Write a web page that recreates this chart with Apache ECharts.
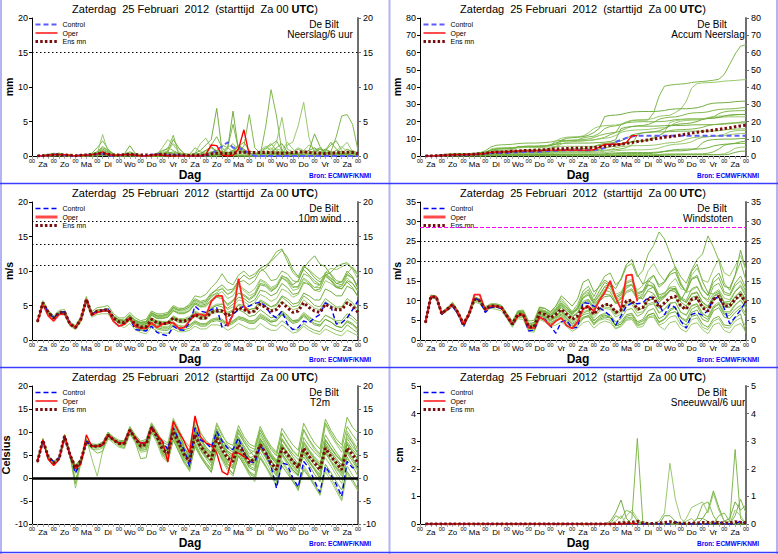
<!DOCTYPE html>
<html>
<head>
<meta charset="utf-8">
<script src="https://cdn.jsdelivr.net/npm/echarts@6/dist/echarts.min.js"></script>
<style>
  html, body { margin: 0; padding: 0; background: #fff; }
  #chart { width: 778px; height: 554px; }
</style>
</head>
<body>
<div id="chart"></div>
<script>
// Time axis: 6-hourly steps, first value at +6h, 15 days
const STEP_HOURS = 6;
const DAYS = ['Za', 'Zo', 'Ma', 'Di', 'Wo', 'Do', 'Vr', 'Za', 'Zo', 'Ma', 'Di', 'Wo', 'Do', 'Vr', 'Za'];
const TITLE_TEXT = 'Zaterdag\u00a0 25 Februari\u00a0 2012\u00a0 (starttijd\u00a0 Za 00 ';
const TITLE_BOLD = 'UTC';
const STATION = 'De Bilt';
const SOURCE = 'Bron: ECMWF/KNMI';
const X_TITLE = 'Dag';

// ---------- T2m (Celsius) ----------
const T2M_MEAN = [
  3.5, 8.2, 4.6, 3.3, 4.3, 9.1, 5.0, 2.2, 3.8, 8.0,
  6.9, 6.9, 7.2, 9.3, 8.3, 7.5, 7.5, 10.4, 8.6, 6.9,
  7.3, 11.0, 9.0, 6.2, 5.4, 10.1, 7.6, 5.1, 3.6, 9.4,
  6.9, 5.4, 4.0, 8.7, 6.2, 4.3, 3.6, 7.2, 5.4, 3.3,
  4.3, 7.2, 5.4, 3.3, 1.8, 6.5, 5.1, 3.6, 2.2, 6.5,
  4.7, 3.3, 1.8, 6.5, 4.7, 3.3, 1.8, 6.5, 5.1, 3.3];
const T2M_CTRL = [
  3.6, 8.0, 4.5, 3.6, 4.3, 9.0, 5.0, 1.1, 3.5, 8.0,
  6.9, 6.9, 7.2, 9.3, 8.3, 7.6, 7.6, 10.5, 8.7, 7.6,
  7.6, 11.2, 9.2, 8.0, 6.2, 10.9, 8.3, 6.2, 2.5, 10.9,
  8.3, 7.6, 6.5, 10.1, 8.0, 6.5, 6.2, 8.7, 5.4, 3.6,
  3.3, 6.9, 5.8, 2.5, -2.2, 3.3, 2.9, 0.0, -2.0, 3.6,
  2.2, -0.7, -3.1, 2.5, 0.7, -1.4, -4.0, 3.6, 2.2, 2.5];
const T2M_OPER = [
  3.5, 8.3, 4.0, 2.7, 4.0, 9.2, 5.0, 2.0, 3.0, 9.4,
  6.9, 6.9, 7.2, 9.4, 8.3, 7.6, 7.6, 10.5, 8.7, 7.6,
  7.6, 11.0, 9.4, 8.0, 3.5, 12.3, 10.1, 8.0, 5.4, 13.5,
  9.0, 7.6, 7.2, 5.4, 1.4, 0.7, 5.4, 5.4, 4.7, 4.0];
const T2M_MEMBERS = [
  [3.8, 8.6, 4.9, 3.5, 4.6, 9.5, 5.4, 2.8, 4.2, 8.4,
   7.4, 7.3, 7.8, 10.0, 8.9, 8.2, 8.1, 11.2, 9.4, 8.0,
   8.4, 12.0, 10.1, 7.8, 7.2, 11.8, 9.4, 7.3, 6.0, 12.4,
   9.8, 8.2, 7.0, 11.6, 9.2, 7.6, 7.1, 11.4, 9.0, 7.4,
   6.8, 11.2, 8.8, 6.9, 5.6, 10.8, 8.9, 7.2, 6.0, 11.9,
   9.6, 7.6, 6.3, 12.8, 10.4, 8.5, 7.2, 13.2, 11.0, 9.8],
  [3.2, 7.9, 4.2, 2.9, 3.9, 8.7, 4.5, 1.0, 3.0, 7.4,
   6.3, 6.1, 6.5, 8.6, 7.6, 6.7, 6.4, 9.5, 7.8, 5.6,
   5.8, 10.0, 7.6, 4.5, 3.4, 8.6, 5.7, 3.2, 1.6, 7.6,
   4.9, 3.0, 1.4, 6.6, 3.8, 1.6, 0.4, 5.0, 2.8, 0.6,
   -0.8, 4.2, 2.4, 0.2, -1.6, 3.4, 1.6, -0.6, -2.8, 2.8,
   0.8, -1.2, -3.4, 2.0, 0.2, -2.2, -4.6, 2.6, 0.6, -1.0],
  [3.6, 8.1, 4.7, 3.4, 4.4, 9.3, 5.2, 2.4, 3.9, 8.2,
   7.0, 7.1, 7.4, 9.5, 8.4, 7.4, 7.2, 10.1, 8.2, 6.4,
   6.6, 10.5, 8.7, 6.9, 6.3, 11.2, 8.6, 6.4, 4.8, 10.4,
   7.6, 5.6, 4.4, 8.0, 5.3, 3.1, 2.0, 6.4, 4.4, 2.6,
   3.4, 8.6, 6.8, 4.6, 3.2, 8.2, 6.5, 4.6, 3.0, 5.2,
   3.4, 1.8, 0.2, 5.4, 3.6, 2.4, 1.2, 7.8, 6.2, 4.8],
  [3.4, 8.4, 4.4, 3.1, 4.1, 8.9, 4.7, 1.7, 3.5, 7.6,
   6.6, 6.5, 6.8, 9.0, 8.0, 7.8, 7.9, 10.8, 9.0, 7.4,
   7.9, 11.6, 9.5, 5.6, 4.2, 9.2, 6.8, 4.2, 2.6, 8.6,
   6.0, 4.3, 2.6, 9.6, 7.4, 5.8, 5.0, 9.0, 7.0, 5.2,
   6.0, 9.8, 7.6, 5.4, 3.8, 7.4, 5.6, 3.8, 2.2, 8.8,
   7.0, 5.6, 4.4, 9.4, 7.4, 5.6, 4.0, 6.0, 4.2, 2.0],
  [3.7, 8.0, 4.8, 3.6, 4.5, 9.0, 4.8, -2.2, 3.2, 8.6,
   4.2, 0.4, 5.8, 8.4, 8.6, 7.0, 7.0, 10.2, 8.8, 7.0,
   6.8, 10.8, 9.2, 6.6, 5.8, 9.6, 7.2, 5.4, 4.0, 10.0,
   7.4, 4.8, 3.2, 7.0, 4.6, 2.8, 2.2, 7.8, 6.2, 4.0,
   2.4, 5.6, 3.6, 1.4, -0.6, 4.8, 3.0, 1.4, 0.4, 7.6,
   5.8, 4.0, 2.6, 4.4, 2.6, 0.6, -1.2, 4.2, 2.8, 1.6],
  [3.5, 8.3, 4.5, 3.2, 4.2, 9.2, 5.1, -1.2, 3.6, 7.8,
   6.8, 7.0, 7.0, 9.2, 8.2, 7.6, 7.7, 10.6, 8.4, 6.8,
   7.0, 11.4, 9.4, 7.0, 6.6, 12.6, 9.8, 6.8, 4.4, 11.0,
   8.4, 6.2, 5.4, 10.6, 8.2, 6.4, 5.6, 9.8, 7.8, 6.0,
   4.6, 6.4, 4.6, 2.8, 1.4, 8.6, 6.8, 5.2, 4.0, 5.6,
   3.6, 2.0, 0.8, 8.2, 6.4, 4.8, 3.6, 9.6, 7.6, 5.2],
  [3.3, 8.1, 4.3, 3.0, 4.0, 8.8, 4.9, 2.0, 3.7, 8.3,
   6.4, 5.4, 5.8, 9.8, 8.6, 7.0, 6.6, 9.8, 7.8, 4.2,
   4.4, 9.8, 8.2, 5.4, 4.4, 9.0, 6.4, 3.8, 1.8, 7.2,
   5.0, 3.4, 2.0, 8.0, 5.8, 3.6, 2.4, 5.8, 3.6, 1.4,
   0.6, 6.6, 4.6, 2.2, 0.4, 5.2, 3.4, 1.8, 0.6, 5.8,
   3.8, 1.8, -0.2, 6.0, 3.6, 1.4, -0.4, 4.6, 2.6, 0.4],
  [3.6, 8.2, 4.6, 3.3, 4.3, 9.1, 5.0, 2.6, 4.0, 8.1,
   7.1, 7.2, 7.5, 9.6, 8.4, 7.9, 7.8, 10.4, 8.8, 7.8,
   8.0, 11.8, 9.6, 8.4, 7.6, 13.0, 10.6, 8.2, 6.8, 12.8,
   10.0, 8.0, 6.6, 12.0, 9.6, 7.2, 6.0, 10.4, 8.0, 6.2,
   5.6, 10.6, 8.4, 6.6, 5.2, 9.8, 7.6, 5.8, 4.6, 10.4,
   8.0, 6.2, 4.8, 11.6, 9.2, 7.4, 5.6, 9.0, 7.6, 6.6],
  [3.4, 8.0, 4.7, 3.4, 4.4, 9.0, 4.6, 1.4, 3.4, 7.9,
   6.7, 6.9, 7.1, 9.1, 8.1, 7.3, 7.2, 10.0, 8.3, 6.0,
   6.2, 10.6, 8.4, 5.2, 3.6, 8.2, 5.8, 3.4, 2.2, 6.8,
   4.6, 2.8, 1.2, 6.2, 4.2, 2.2, 0.8, 4.8, 3.0, 1.2,
   0.2, 4.4, 2.6, 0.8, -0.8, 2.6, 1.0, -0.8, -2.4, 1.8,
   0.2, -1.8, -3.6, 3.0, 1.2, -0.8, -2.6, 1.4, -0.4, -2.4],
  [3.5, 8.2, 4.6, 3.3, 4.3, 9.2, 5.1, 2.3, 3.8, 8.0,
   6.9, 6.9, 7.2, 9.3, 8.3, 7.6, 7.5, 10.4, 8.5, 7.0,
   7.2, 11.0, 8.8, 6.0, 5.2, 10.6, 8.0, 5.8, 4.2, 9.8,
   7.2, 5.8, 4.6, 9.2, 6.8, 4.8, 4.0, 7.8, 5.8, 4.0,
   3.6, 8.0, 6.2, 4.4, 3.0, 7.2, 5.6, 4.0, 2.8, 7.8,
   6.0, 4.4, 3.0, 6.6, 4.8, 3.2, 1.8, 7.4, 5.8, 4.0],
  [3.6, 8.3, 4.5, 3.2, 4.2, 9.1, 5.0, 2.1, 3.9, 8.1,
   7.0, 6.8, 7.3, 9.4, 8.2, 7.4, 7.6, 10.5, 8.7, 7.2,
   7.5, 11.2, 9.1, 6.4, 5.0, 10.8, 8.2, 5.2, 3.0, 11.6,
   8.8, 6.6, 5.0, 7.6, 5.0, 3.0, 2.6, 8.4, 6.4, 4.4,
   4.8, 9.2, 7.2, 5.0, 3.6, 6.0, 4.2, 2.4, 0.8, 8.0,
   6.2, 4.6, 3.4, 6.8, 4.6, 2.8, 1.2, 10.2, 8.2, 6.0],
  [3.5, 8.1, 4.6, 3.3, 4.3, 9.0, 4.9, 2.2, 3.8, 7.9,
   6.8, 6.9, 7.1, 9.2, 8.2, 7.4, 7.4, 10.2, 8.5, 6.6,
   7.0, 10.8, 8.6, 5.8, 4.8, 9.4, 7.0, 4.6, 3.0, 8.4,
   6.2, 4.6, 3.4, 9.4, 7.2, 5.4, 4.6, 6.2, 4.2, 2.2,
   1.6, 7.8, 5.8, 3.6, 2.0, 7.0, 5.2, 3.4, 2.0, 4.6,
   2.8, 0.8, -0.8, 7.2, 5.4, 3.8, 2.4, 5.4, 3.6, 1.8],
  [3.7, 8.4, 4.8, 3.5, 4.5, 9.4, 5.3, 2.5, 4.1, 8.3,
   7.2, 7.1, 7.6, 9.8, 8.7, 7.9, 7.9, 10.9, 9.1, 7.6,
   7.9, 11.6, 9.8, 7.4, 6.6, 11.4, 8.8, 6.6, 5.2, 11.2,
   8.6, 6.8, 5.6, 10.8, 8.4, 6.8, 6.2, 10.6, 8.4, 6.8,
   6.2, 10.4, 8.2, 6.2, 4.8, 9.6, 7.8, 6.0, 4.8, 10.6,
   8.4, 6.6, 5.2, 12.0, 9.8, 7.8, 6.4, 11.2, 9.4, 7.8],
  [3.4, 8.0, 4.4, 3.1, 4.1, 8.9, 4.7, 1.6, 3.4, 7.7,
   6.6, 6.5, 6.8, 8.9, 7.9, 7.1, 7.0, 9.9, 8.1, 6.0,
   6.3, 10.4, 8.2, 5.0, 3.8, 8.8, 6.2, 3.8, 1.4, 7.8,
   5.2, 3.2, 1.8, 7.0, 4.6, 2.4, 1.0, 5.6, 3.2, 0.8,
   0.2, 4.8, 2.8, 0.4, -1.2, 3.8, 2.0, -0.2, -2.0, 2.2,
   0.4, -1.6, -3.8, 1.4, -0.6, -2.8, -5.0, 1.0, -1.0, -2.8],
  [3.6, 8.2, 4.6, 3.3, 4.3, 9.1, 5.0, 2.3, 3.9, 8.1,
   7.0, 6.8, 7.1, 9.4, 8.4, 7.7, 7.6, 10.6, 8.7, 7.2,
   7.4, 11.2, 9.2, 6.6, 5.8, 10.4, 7.8, 5.6, 4.0, 9.8,
   7.2, 5.6, 4.4, 9.8, 7.6, 5.8, 5.0, 8.6, 6.6, 4.6,
   4.0, 8.4, 6.6, 4.8, 3.6, 5.4, 3.6, 1.8, 0.6, 6.6,
   5.0, 3.6, 2.4, 8.4, 6.6, 5.0, 3.8, 5.8, 4.2, 2.6],
  [3.5, 8.1, 4.7, 3.4, 4.4, 9.2, 4.8, -0.4, 3.4, 8.4,
   6.9, 7.0, 7.3, 9.2, 8.2, 7.4, 7.3, 10.3, 8.6, 6.8,
   7.2, 10.9, 8.9, 6.0, 4.8, 9.8, 7.4, 5.0, 3.4, 9.0,
   6.6, 5.0, 3.6, 8.4, 5.8, 3.8, 2.8, 6.6, 4.6, 2.6,
   2.0, 6.4, 4.4, 2.4, 0.8, 6.0, 4.4, 2.8, 1.2, 7.2,
   5.6, 4.0, 2.6, 5.6, 3.8, 2.2, 0.8, 8.6, 6.8, 5.4],
  [3.5, 8.3, 4.6, 3.3, 4.3, 9.0, 5.0, 2.2, 3.8, 7.9,
   6.9, 6.9, 7.2, 9.3, 8.3, 7.5, 7.4, 10.3, 8.5, 6.6,
   7.0, 10.8, 8.8, 5.8, 5.0, 10.0, 7.4, 4.8, 3.2, 9.0,
   6.4, 4.8, 3.4, 8.2, 5.6, 3.6, 2.8, 7.0, 5.0, 2.8,
   3.0, 7.0, 5.0, 2.8, 1.2, 5.8, 4.4, 2.8, 1.4, 5.8,
   3.8, 2.2, 0.6, 5.8, 3.8, 2.0, 0.4, 6.2, 4.4, 2.2],
  [3.6, 8.2, 4.5, 3.2, 4.2, 9.1, 5.0, 2.1, 3.8, 8.1,
   7.0, 6.9, 7.2, 9.3, 8.3, 7.6, 7.6, 10.5, 8.7, 7.1,
   7.5, 11.3, 9.3, 6.8, 6.0, 10.8, 8.2, 5.8, 4.4, 10.2,
   7.6, 6.0, 4.8, 9.4, 7.0, 5.0, 4.2, 7.6, 5.6, 3.8,
   4.0, 7.6, 5.8, 3.8, 2.4, 7.0, 5.6, 4.0, 2.6, 6.0,
   4.4, 2.8, 1.4, 7.6, 5.8, 4.2, 2.8, 7.2, 5.6, 4.0]
];
const T2M_REF = [0];

// ---------- Windstoten (m/s) ----------
const GUST_MEAN = [
  4.4, 11.0, 10.9, 6.7, 7.8, 9.0, 6.9, 4.0, 6.5, 10.3,
  9.9, 7.8, 8.6, 8.6, 8.2, 6.1, 4.0, 6.5, 6.5, 3.3,
  3.3, 6.9, 6.5, 5.6, 6.5, 7.8, 6.5, 5.2, 6.1, 8.2,
  8.5, 6.5, 8.2, 9.0, 9.0, 7.0, 7.6, 9.9, 10.1, 7.8,
  8.2, 10.3, 10.7, 8.2, 9.4, 10.7, 11.1, 8.6, 7.8, 10.3,
  10.7, 8.2, 7.3, 10.3, 11.1, 8.6, 8.6, 10.3, 11.5, 9.4];
const GUST_CTRL = [
  4.4, 11.0, 10.9, 6.5, 7.6, 8.6, 6.5, 3.3, 6.3, 10.7,
  10.0, 7.0, 8.2, 8.4, 8.0, 5.8, 3.8, 6.1, 6.3, 2.3,
  2.5, 5.8, 5.2, 3.6, 1.7, 4.6, 5.0, 3.0, 3.2, 9.5,
  9.3, 8.6, 8.2, 7.3, 6.1, 3.8, 6.1, 8.6, 9.4, 9.2,
  9.4, 10.9, 10.7, 9.0, 6.4, 9.0, 8.2, 4.8, 3.0, 6.5,
  6.9, 6.3, 7.5, 10.5, 10.9, 8.0, 4.1, 5.8, 7.6, 9.9];
const GUST_OPER = [
  4.4, 11.0, 10.9, 6.7, 7.8, 9.0, 6.9, 4.0, 6.5, 11.5,
  11.5, 7.6, 8.6, 8.6, 8.2, 6.1, 4.0, 6.1, 6.5, 3.1,
  3.1, 5.8, 5.0, 3.5, 4.8, 5.6, 3.7, 2.9, 4.6, 7.8,
  8.6, 7.3, 10.0, 12.0, 15.0, 10.8, 7.8, 16.4, 16.6, 9.8];
const GUST_MEMBERS = [
  [4.6, 11.4, 11.2, 7.0, 8.2, 9.6, 7.4, 4.6, 7.0, 11.0,
   10.4, 8.4, 9.2, 9.2, 8.8, 6.8, 4.8, 7.4, 7.6, 4.8,
   5.0, 8.4, 8.0, 7.0, 8.0, 10.0, 8.6, 7.2, 9.0, 12.4,
   13.6, 11.0, 13.8, 16.2, 17.0, 14.0, 15.2, 18.6, 19.4, 16.0,
   17.6, 21.8, 24.0, 27.4, 25.6, 22.0, 18.4, 14.2, 12.0, 15.6,
   16.4, 13.0, 11.2, 14.6, 15.8, 12.2, 11.6, 14.4, 16.2, 13.0],
  [4.2, 10.6, 10.5, 6.4, 7.4, 8.4, 6.4, 3.6, 6.0, 9.6,
   9.2, 7.2, 8.0, 7.8, 7.4, 5.4, 3.2, 5.4, 5.2, 2.2,
   2.0, 5.2, 4.6, 3.4, 3.8, 4.6, 3.4, 2.2, 3.0, 4.4,
   4.8, 3.0, 4.2, 4.8, 4.4, 2.8, 3.4, 5.0, 5.2, 3.2,
   3.4, 5.6, 5.8, 3.6, 2.6, 4.4, 4.8, 2.8, 2.0, 4.0,
   4.4, 2.6, 1.6, 3.8, 4.4, 2.4, 1.8, 3.6, 4.2, 2.0],
  [4.4, 11.2, 11.0, 6.9, 8.0, 9.3, 7.0, 4.2, 6.8, 10.6,
   10.2, 8.0, 8.8, 8.9, 8.4, 6.3, 4.2, 6.8, 6.9, 3.6,
   3.8, 7.4, 7.0, 6.0, 7.2, 8.8, 7.6, 6.4, 8.2, 11.6,
   12.8, 10.0, 12.4, 14.6, 13.8, 10.6, 11.4, 13.8, 14.0, 11.0,
   10.4, 12.8, 13.4, 10.2, 11.0, 12.6, 12.8, 10.0, 12.6, 17.4,
   19.2, 14.8, 12.0, 11.6, 12.4, 9.6, 9.8, 12.2, 13.6, 11.0],
  [4.3, 10.8, 10.7, 6.5, 7.6, 8.8, 6.7, 3.8, 6.3, 10.0,
   9.6, 7.5, 8.3, 8.4, 8.0, 5.8, 3.8, 6.2, 6.2, 3.0,
   2.8, 6.2, 5.8, 4.8, 5.6, 6.6, 5.4, 4.0, 4.6, 6.4,
   6.8, 4.8, 6.2, 6.8, 6.4, 4.6, 5.4, 7.6, 8.0, 6.0,
   6.8, 8.8, 9.2, 6.8, 7.8, 9.2, 9.6, 7.0, 6.4, 8.8,
   9.2, 6.8, 5.8, 8.4, 9.0, 6.4, 6.2, 7.8, 8.8, 6.6],
  [4.5, 11.0, 10.8, 6.8, 7.9, 9.2, 7.1, 4.4, 6.6, 10.4,
   10.0, 7.9, 8.7, 8.8, 8.3, 6.2, 4.4, 7.0, 7.2, 4.0,
   4.4, 8.0, 7.4, 6.8, 8.6, 10.6, 9.0, 7.0, 7.6, 9.8,
   10.4, 8.4, 10.6, 12.8, 13.6, 11.6, 12.2, 14.8, 15.4, 12.6,
   13.8, 17.6, 19.4, 16.8, 15.0, 17.2, 18.0, 14.6, 12.0, 12.6,
   13.4, 11.0, 9.6, 11.8, 12.8, 10.6, 10.2, 12.4, 14.0, 11.6],
  [4.4, 10.9, 10.9, 6.6, 7.7, 8.9, 6.8, 3.9, 6.4, 10.2,
   9.8, 7.6, 8.4, 8.4, 8.0, 5.9, 3.6, 5.8, 5.8, 2.6,
   2.4, 5.6, 5.0, 4.0, 4.8, 5.8, 4.4, 3.0, 3.6, 5.4,
   6.2, 4.2, 5.6, 6.2, 5.8, 3.8, 4.6, 6.4, 6.8, 4.6,
   5.2, 7.4, 8.0, 5.4, 6.2, 7.8, 8.4, 5.6, 4.6, 7.0,
   7.6, 5.2, 4.6, 7.4, 8.2, 5.8, 5.4, 7.0, 8.2, 5.8],
  [4.6, 11.2, 11.1, 7.1, 8.1, 9.4, 7.2, 4.4, 6.9, 10.8,
   10.4, 8.2, 9.0, 9.0, 8.6, 6.5, 4.4, 7.0, 7.0, 3.8,
   4.0, 7.6, 7.4, 6.4, 7.4, 9.0, 7.8, 6.6, 7.8, 10.6,
   11.4, 9.0, 10.4, 11.6, 11.4, 9.2, 9.6, 12.4, 13.0, 10.4,
   11.4, 14.6, 16.4, 14.0, 14.8, 17.0, 18.6, 16.0, 14.4, 17.8,
   20.4, 21.8, 26.4, 23.6, 20.2, 14.4, 12.6, 16.4, 19.8, 15.0],
  [4.3, 10.9, 10.8, 6.6, 7.7, 8.8, 6.8, 3.9, 6.4, 10.1,
   9.7, 7.6, 8.4, 8.3, 8.0, 5.9, 3.9, 6.4, 6.4, 3.2,
   3.2, 6.6, 6.2, 5.2, 6.0, 7.2, 6.0, 4.6, 5.4, 7.2,
   7.6, 5.6, 7.2, 8.0, 7.8, 5.8, 6.6, 8.8, 9.0, 6.8,
   7.2, 9.2, 9.6, 7.0, 8.0, 9.4, 9.6, 7.0, 6.2, 8.6,
   9.0, 6.6, 5.8, 8.6, 9.6, 7.2, 7.2, 9.0, 10.0, 8.0],
  [4.4, 11.0, 10.9, 6.7, 7.8, 9.0, 6.9, 4.0, 6.5, 10.3,
   9.9, 7.8, 8.6, 8.6, 8.2, 6.1, 4.1, 6.6, 6.6, 3.4,
   3.4, 7.0, 6.6, 5.8, 6.8, 8.2, 7.0, 5.8, 6.8, 9.2,
   9.8, 7.8, 9.8, 11.0, 11.2, 9.4, 10.4, 13.2, 14.0, 11.6,
   12.2, 15.4, 16.4, 13.4, 14.6, 16.6, 17.2, 13.8, 12.4, 15.4,
   16.0, 12.6, 11.4, 15.6, 17.0, 13.6, 13.2, 16.4, 22.8, 17.6],
  [4.5, 11.1, 11.0, 6.8, 7.9, 9.1, 7.0, 4.1, 6.6, 10.4,
   10.0, 7.9, 8.7, 8.7, 8.3, 6.2, 4.0, 6.4, 6.4, 3.2,
   3.2, 6.6, 6.0, 5.0, 5.8, 7.0, 5.6, 4.2, 5.0, 6.8,
   7.4, 5.0, 6.0, 6.4, 5.8, 3.6, 4.0, 5.6, 5.8, 3.8,
   4.2, 6.2, 6.8, 4.6, 5.4, 7.4, 8.2, 5.8, 5.0, 7.8,
   8.6, 6.0, 5.2, 8.0, 9.2, 6.8, 6.8, 8.8, 10.2, 8.2],
  [4.3, 10.8, 10.8, 6.6, 7.6, 8.9, 6.8, 3.8, 6.4, 10.2,
   9.8, 7.7, 8.5, 8.5, 8.1, 6.0, 4.0, 6.6, 6.6, 3.6,
   3.8, 7.6, 7.4, 6.6, 7.8, 9.4, 8.2, 6.8, 8.4, 11.4,
   12.2, 9.6, 11.6, 13.4, 13.0, 10.4, 10.8, 13.6, 14.2, 11.2,
   11.6, 13.8, 14.0, 10.8, 11.8, 13.4, 13.6, 10.4, 9.4, 11.8,
   12.2, 9.4, 8.4, 11.2, 12.0, 9.2, 9.0, 11.0, 12.0, 9.6],
  [4.4, 11.0, 10.9, 6.7, 7.8, 9.0, 6.9, 4.0, 6.5, 10.3,
   9.9, 7.8, 8.6, 8.6, 8.2, 6.1, 4.0, 6.2, 6.2, 3.0,
   3.0, 6.2, 5.6, 4.4, 5.2, 6.4, 5.0, 3.6, 4.2, 5.8,
   6.2, 4.2, 5.2, 5.8, 5.6, 3.6, 4.0, 6.0, 6.4, 4.2,
   4.8, 6.4, 6.8, 4.4, 5.2, 6.8, 7.2, 4.8, 3.8, 6.0,
   6.4, 4.0, 3.2, 5.4, 6.0, 3.8, 3.6, 5.6, 6.6, 1.6],
  [4.4, 11.1, 11.0, 6.8, 7.9, 9.1, 7.0, 4.1, 6.6, 10.4,
   10.0, 7.9, 8.7, 8.7, 8.3, 6.2, 4.2, 6.8, 6.8, 3.6,
   3.6, 7.2, 6.8, 6.0, 7.0, 8.4, 7.2, 6.0, 7.0, 9.4,
   10.2, 8.0, 10.2, 12.6, 12.2, 9.6, 10.6, 12.0, 12.6, 10.2,
   11.0, 12.4, 11.8, 9.6, 10.8, 12.4, 13.2, 10.8, 10.0, 13.0,
   13.6, 11.0, 10.2, 13.6, 14.4, 11.6, 11.2, 13.8, 15.0, 12.2],
  [4.3, 10.9, 10.8, 6.6, 7.7, 8.9, 6.8, 3.9, 6.4, 10.1,
   9.7, 7.6, 8.4, 8.4, 8.0, 5.9, 3.8, 6.0, 6.0, 2.8,
   2.8, 5.8, 5.2, 4.2, 5.0, 6.0, 4.8, 3.4, 4.0, 5.6,
   5.8, 3.8, 5.0, 5.4, 5.0, 3.0, 3.6, 5.2, 5.6, 3.6,
   4.0, 5.8, 6.2, 3.8, 4.4, 5.8, 6.2, 3.8, 3.0, 5.2,
   5.6, 3.2, 2.6, 4.8, 5.4, 3.2, 3.0, 4.8, 5.6, 3.4],
  [4.5, 11.0, 10.9, 6.7, 7.8, 9.0, 6.9, 4.0, 6.5, 10.3,
   9.9, 7.8, 8.6, 8.6, 8.2, 6.1, 4.1, 6.7, 6.7, 3.5,
   3.6, 7.4, 7.2, 6.4, 7.6, 9.4, 8.2, 7.0, 8.0, 10.8,
   11.8, 9.4, 11.2, 13.6, 14.4, 13.0, 15.6, 19.2, 20.4, 16.6,
   14.2, 15.0, 14.2, 11.4, 12.0, 13.2, 13.0, 10.4, 9.6, 11.6,
   12.0, 9.6, 8.6, 11.0, 11.8, 9.4, 9.2, 11.0, 12.4, 10.2],
  [4.4, 11.0, 10.9, 6.7, 7.8, 9.0, 6.9, 4.0, 6.5, 10.3,
   9.9, 7.8, 8.6, 8.6, 8.2, 6.1, 4.0, 6.3, 6.3, 3.2,
   3.2, 6.6, 6.2, 5.2, 6.0, 7.4, 6.2, 5.0, 5.8, 7.8,
   8.4, 6.4, 8.0, 9.0, 8.8, 6.8, 7.6, 9.6, 10.0, 7.6,
   8.0, 10.0, 10.4, 8.0, 9.0, 10.4, 10.8, 8.4, 7.8, 10.0,
   10.4, 8.0, 7.2, 10.0, 10.8, 8.4, 8.4, 10.0, 11.2, 9.2],
  [4.4, 11.0, 10.9, 6.7, 7.8, 9.0, 6.9, 4.0, 6.5, 10.3,
   9.9, 7.8, 8.6, 8.6, 8.2, 6.1, 4.0, 6.5, 6.5, 3.3,
   3.3, 6.8, 6.4, 5.4, 6.2, 7.6, 6.4, 5.0, 5.8, 7.8,
   8.2, 6.2, 7.6, 8.4, 8.2, 6.4, 7.2, 9.2, 9.6, 7.4,
   8.2, 10.6, 11.6, 9.6, 11.4, 14.2, 15.6, 13.0, 12.6, 16.4,
   18.2, 15.2, 14.6, 18.0, 20.6, 17.0, 16.2, 18.8, 21.4, 17.8],
  [4.5, 11.1, 11.0, 6.8, 7.9, 9.1, 7.0, 4.1, 6.6, 10.4,
   10.0, 7.9, 8.7, 8.7, 8.3, 6.2, 4.3, 7.2, 7.3, 4.2,
   4.4, 8.2, 8.0, 7.2, 8.6, 11.2, 10.0, 8.6, 10.4, 14.6,
   15.4, 12.2, 13.4, 15.2, 14.2, 11.0, 11.8, 14.4, 15.0, 12.0,
   12.4, 14.0, 13.4, 10.6, 11.2, 12.6, 12.2, 9.6, 8.6, 10.8,
   11.2, 8.8, 8.0, 10.4, 11.0, 8.6, 8.2, 10.0, 11.2, 8.8]
];
const GUST_REF = [20, 25];
const GUST_WARN = [28.5];

// ---------- 10m wind (m/s) ----------
const WIND_MEAN = [
  2.65, 5.4, 4.0, 3.2, 4.0, 4.0, 2.3, 1.8, 3.0, 5.9,
  3.7, 4.2, 4.3, 4.4, 3.2, 2.65, 2.5, 3.2, 2.3, 1.9,
  1.9, 3.0, 2.5, 2.4, 2.4, 3.2, 2.75, 2.75, 3.0, 3.7,
  3.2, 3.2, 4.0, 4.2, 4.2, 3.5, 4.0, 4.7, 4.4, 4.0,
  4.2, 5.2, 4.7, 4.2, 4.4, 5.4, 4.7, 4.0, 4.2, 5.4,
  4.7, 4.2, 4.0, 5.2, 4.7, 4.4, 4.4, 5.4, 4.9, 4.0];
const WIND_CTRL = [
  2.65, 5.4, 4.0, 3.2, 4.0, 4.1, 2.3, 1.8, 3.0, 5.9,
  3.7, 4.2, 4.3, 4.5, 2.7, 2.0, 2.3, 3.2, 1.5, 1.4,
  1.3, 2.0, 1.1, 0.8, 0.6, 2.0, 1.5, 1.4, 2.5, 4.9,
  4.2, 4.0, 4.4, 4.7, 1.8, 2.3, 3.7, 4.4, 4.9, 4.9,
  5.3, 5.5, 4.9, 3.7, 3.2, 4.2, 2.3, 1.5, 1.8, 2.75,
  2.5, 3.2, 3.7, 5.4, 4.9, 2.3, 2.5, 3.2, 4.4, 5.7];
const WIND_OPER = [
  2.65, 5.2, 3.5, 2.75, 3.7, 3.8, 2.3, 1.8, 3.0, 5.9,
  3.6, 4.0, 4.2, 4.3, 2.7, 2.0, 2.3, 3.2, 2.0, 1.7,
  1.7, 2.5, 1.8, 2.3, 2.5, 2.5, 1.7, 1.8, 2.75, 3.7,
  3.7, 3.5, 5.6, 6.4, 6.4, 2.0, 3.7, 8.9, 4.9, 4.0];
const WIND_MEMBERS = [
  [2.8, 5.7, 4.3, 3.5, 4.3, 4.4, 2.6, 2.1, 3.4, 6.3,
   4.1, 4.7, 4.8, 5.0, 3.8, 3.2, 3.2, 4.0, 3.2, 2.8,
   3.0, 4.2, 3.8, 3.8, 4.0, 5.0, 4.6, 4.6, 5.0, 6.0,
   5.6, 5.8, 6.8, 7.2, 7.4, 6.6, 7.2, 8.4, 8.6, 8.0,
   8.6, 10.0, 10.4, 11.6, 12.8, 13.2, 11.4, 9.8, 9.0, 10.2,
   9.4, 8.6, 8.0, 9.6, 9.0, 8.2, 8.0, 9.4, 9.0, 7.6],
  [2.5, 5.1, 3.7, 2.9, 3.7, 3.6, 2.0, 1.5, 2.6, 5.4,
   3.3, 3.7, 3.8, 3.8, 2.6, 2.1, 1.8, 2.4, 1.5, 1.1,
   0.9, 1.8, 1.3, 1.0, 1.0, 1.6, 1.2, 1.2, 1.4, 2.0,
   1.6, 1.6, 2.2, 2.2, 2.0, 1.4, 1.8, 2.4, 2.0, 1.6,
   1.6, 2.4, 1.8, 1.4, 1.4, 2.2, 1.6, 1.0, 1.2, 2.0,
   1.4, 1.0, 0.8, 1.6, 1.2, 0.8, 0.6, 1.4, 1.0, 0.6],
  [2.7, 5.5, 4.1, 3.3, 4.1, 4.1, 2.4, 1.9, 3.1, 6.0,
   3.8, 4.3, 4.4, 4.5, 3.3, 2.8, 2.7, 3.4, 2.6, 2.2,
   2.3, 3.6, 3.1, 3.1, 3.3, 4.3, 3.9, 3.9, 4.3, 5.4,
   5.0, 5.2, 6.4, 6.8, 6.2, 5.0, 5.6, 6.8, 6.4, 5.8,
   6.4, 8.0, 7.8, 7.0, 7.6, 9.2, 9.0, 8.0, 8.6, 10.4,
   11.4, 12.2, 11.0, 10.6, 9.4, 8.2, 8.4, 10.0, 9.2, 7.4],
  [2.6, 5.3, 3.9, 3.1, 3.9, 3.9, 2.2, 1.7, 2.9, 5.8,
   3.6, 4.1, 4.2, 4.2, 3.0, 2.5, 2.3, 3.0, 2.1, 1.7,
   1.6, 2.6, 2.1, 1.9, 1.9, 2.6, 2.1, 2.0, 2.2, 2.8,
   2.4, 2.4, 3.0, 3.2, 3.0, 2.4, 2.8, 3.4, 3.2, 2.8,
   2.8, 3.6, 3.2, 2.6, 2.8, 3.8, 3.2, 2.6, 2.8, 3.8,
   3.2, 2.8, 2.6, 3.6, 3.2, 2.8, 2.8, 3.8, 3.4, 2.6],
  [2.7, 5.4, 4.0, 3.2, 4.0, 4.0, 2.3, 1.8, 3.0, 5.9,
   3.7, 4.2, 4.3, 4.4, 3.3, 2.8, 2.7, 3.5, 2.7, 2.4,
   2.5, 3.7, 3.3, 3.3, 3.4, 4.4, 4.0, 4.0, 4.3, 5.2,
   4.8, 4.8, 5.8, 6.6, 7.0, 6.0, 6.4, 7.8, 7.2, 6.4,
   6.8, 8.6, 8.2, 7.4, 7.8, 9.0, 8.4, 7.2, 7.4, 8.8,
   8.2, 7.2, 7.0, 8.6, 8.2, 7.6, 7.8, 9.6, 10.6, 9.6],
  [2.6, 5.4, 4.0, 3.2, 4.0, 4.0, 2.3, 1.8, 3.0, 5.9,
   3.7, 4.2, 4.3, 4.3, 3.1, 2.5, 2.3, 2.9, 1.9, 1.5,
   1.4, 2.4, 1.8, 1.6, 1.6, 2.2, 1.8, 1.8, 2.0, 2.6,
   2.2, 2.2, 2.8, 3.0, 2.8, 2.2, 2.6, 3.2, 3.0, 2.6,
   2.6, 3.4, 3.0, 2.6, 2.8, 3.6, 3.0, 2.4, 2.6, 3.4,
   2.8, 2.2, 2.0, 3.0, 2.6, 2.0, 1.8, 2.8, 2.4, 1.6],
  [2.7, 5.5, 4.1, 3.3, 4.1, 4.1, 2.4, 1.9, 3.1, 6.0,
   3.8, 4.3, 4.4, 4.6, 3.5, 3.0, 2.9, 3.7, 2.9, 2.6,
   2.7, 4.0, 3.6, 3.6, 3.8, 4.8, 4.4, 4.6, 5.2, 6.4,
   6.2, 6.6, 7.6, 8.4, 9.6, 8.4, 8.0, 9.4, 10.0, 9.2,
   9.6, 10.4, 9.8, 8.6, 8.8, 10.0, 9.6, 8.6, 8.4, 10.6,
   10.2, 9.4, 8.8, 9.6, 8.8, 7.8, 7.4, 8.4, 7.6, 6.2],
  [2.6, 5.3, 3.9, 3.1, 3.9, 3.9, 2.2, 1.7, 2.9, 5.8,
   3.6, 4.1, 4.2, 4.3, 3.1, 2.6, 2.4, 3.1, 2.2, 1.8,
   1.8, 2.8, 2.3, 2.2, 2.2, 3.0, 2.5, 2.5, 2.7, 3.4,
   3.0, 3.0, 3.8, 4.0, 4.0, 3.4, 3.8, 4.6, 4.4, 4.0,
   4.2, 5.2, 4.8, 4.4, 4.6, 5.6, 5.0, 4.4, 4.6, 5.8,
   5.2, 4.6, 4.4, 5.6, 5.0, 4.6, 4.6, 5.6, 5.0, 4.0],
  [2.7, 5.4, 4.0, 3.2, 4.0, 4.0, 2.3, 1.8, 3.0, 5.9,
   3.7, 4.2, 4.3, 4.4, 3.3, 2.7, 2.6, 3.3, 2.4, 2.0,
   2.0, 3.2, 2.7, 2.6, 2.6, 3.4, 2.9, 2.9, 3.2, 4.0,
   3.6, 3.6, 4.6, 5.0, 5.2, 4.6, 5.2, 6.2, 6.0, 5.4,
   5.8, 7.2, 7.0, 6.4, 6.8, 8.2, 7.6, 6.6, 6.8, 8.4,
   8.0, 7.2, 7.4, 9.4, 9.8, 10.6, 11.0, 11.2, 10.4, 9.4],
  [2.6, 5.3, 3.9, 3.1, 3.9, 3.9, 2.2, 1.7, 2.9, 5.8,
   3.6, 4.1, 4.2, 4.2, 3.0, 2.4, 2.2, 2.8, 1.8, 1.4,
   1.3, 2.2, 1.6, 1.4, 1.4, 2.0, 1.5, 1.5, 1.7, 2.4,
   2.0, 2.0, 2.6, 2.8, 2.6, 2.0, 2.4, 3.0, 2.8, 2.4,
   2.4, 3.2, 2.8, 2.2, 2.0, 2.8, 2.2, 1.6, 1.4, 2.4,
   1.8, 1.4, 1.2, 2.2, 1.8, 1.4, 1.2, 2.2, 1.6, 1.0],
  [2.7, 5.5, 4.1, 3.3, 4.1, 4.1, 2.4, 1.9, 3.1, 6.0,
   3.8, 4.3, 4.4, 4.5, 3.4, 2.9, 2.8, 3.6, 2.8, 2.5,
   2.6, 3.8, 3.4, 3.4, 3.6, 4.6, 4.2, 4.2, 4.6, 5.6,
   5.2, 5.4, 6.2, 6.8, 7.6, 6.6, 7.0, 8.0, 7.4, 6.8,
   7.4, 8.8, 8.4, 7.6, 8.0, 9.4, 8.8, 7.8, 7.6, 9.0,
   8.4, 7.6, 7.6, 9.2, 8.6, 7.8, 7.8, 9.0, 8.2, 7.2],
  [2.6, 5.4, 4.0, 3.2, 4.0, 4.0, 2.3, 1.8, 3.0, 5.9,
   3.7, 4.2, 4.3, 4.4, 3.2, 2.6, 2.5, 3.2, 2.3, 1.9,
   1.9, 3.0, 2.5, 2.4, 2.4, 3.2, 2.8, 2.8, 3.0, 3.8,
   3.4, 3.4, 4.2, 4.4, 4.4, 3.8, 4.2, 5.0, 4.8, 4.4,
   4.6, 5.6, 5.2, 4.8, 5.2, 6.4, 6.0, 5.2, 5.4, 6.8,
   6.4, 5.8, 5.8, 7.4, 7.0, 6.4, 6.4, 7.8, 7.4, 6.4],
  [2.7, 5.5, 4.1, 3.3, 4.1, 4.1, 2.4, 1.9, 3.1, 6.0,
   3.8, 4.3, 4.4, 4.5, 3.4, 2.9, 2.8, 3.6, 2.7, 2.3,
   2.4, 3.6, 3.2, 3.2, 3.3, 4.2, 3.8, 3.8, 4.2, 5.2,
   4.8, 5.0, 5.8, 6.2, 6.0, 5.2, 5.8, 6.8, 6.6, 6.0,
   6.6, 8.2, 8.0, 7.2, 7.6, 9.0, 8.6, 7.6, 7.8, 9.6,
   9.2, 8.2, 8.0, 9.8, 9.6, 8.6, 8.4, 9.6, 9.0, 7.8],
  [2.6, 5.3, 3.9, 3.1, 3.9, 3.9, 2.2, 1.7, 2.9, 5.8,
   3.6, 4.1, 4.2, 4.3, 3.1, 2.5, 2.3, 3.0, 2.0, 1.6,
   1.5, 2.5, 2.0, 1.8, 1.8, 2.4, 2.0, 1.9, 2.1, 2.7,
   2.3, 2.3, 2.9, 3.1, 2.9, 2.3, 2.7, 3.3, 3.1, 2.7,
   2.9, 3.8, 3.4, 2.8, 3.0, 4.0, 3.4, 2.8, 3.0, 4.0,
   3.4, 2.8, 2.6, 3.6, 3.2, 2.6, 2.4, 3.4, 3.0, 2.2],
  [2.7, 5.4, 4.0, 3.2, 4.0, 4.0, 2.3, 1.8, 3.0, 5.9,
   3.7, 4.2, 4.3, 4.5, 3.4, 2.9, 2.8, 3.6, 2.8, 2.5,
   2.6, 3.9, 3.5, 3.5, 3.7, 4.7, 4.3, 4.4, 4.8, 5.8,
   5.4, 5.6, 6.6, 7.4, 8.0, 7.2, 7.4, 8.6, 9.4, 8.8,
   9.2, 10.4, 10.8, 11.4, 12.2, 13.0, 12.0, 10.2, 9.2, 10.8,
   10.0, 9.0, 8.4, 9.4, 8.6, 7.6, 7.4, 8.6, 8.2, 7.0],
  [2.6, 5.4, 4.0, 3.2, 4.0, 4.0, 2.3, 1.8, 3.0, 5.9,
   3.7, 4.2, 4.3, 4.4, 3.2, 2.6, 2.5, 3.2, 2.3, 1.9,
   1.9, 3.0, 2.6, 2.5, 2.5, 3.3, 2.9, 2.9, 3.2, 4.0,
   3.6, 3.7, 4.6, 5.0, 4.8, 4.0, 4.4, 5.2, 5.0, 4.4,
   4.6, 5.8, 5.4, 4.8, 5.0, 6.2, 5.6, 4.8, 5.0, 6.4,
   5.8, 5.0, 4.8, 6.0, 5.4, 4.8, 4.8, 6.0, 5.4, 4.4],
  [2.7, 5.4, 4.0, 3.2, 4.0, 4.0, 2.3, 1.8, 3.0, 5.9,
   3.7, 4.2, 4.3, 4.4, 3.3, 2.7, 2.6, 3.3, 2.5, 2.1,
   2.1, 3.2, 2.8, 2.7, 2.7, 3.5, 3.1, 3.1, 3.4, 4.2,
   3.8, 3.9, 4.8, 5.2, 5.2, 4.4, 4.8, 5.8, 5.6, 5.0,
   5.4, 6.6, 6.2, 5.6, 6.0, 7.4, 7.0, 6.2, 6.6, 8.2,
   8.2, 7.6, 8.0, 9.8, 10.4, 10.2, 10.6, 11.0, 10.2, 8.8],
  [2.6, 5.3, 3.9, 3.1, 3.9, 3.9, 2.2, 1.7, 2.9, 5.8,
   3.6, 4.1, 4.2, 4.2, 3.1, 2.5, 2.4, 3.1, 2.2, 1.8,
   1.8, 2.9, 2.4, 2.3, 2.3, 3.1, 2.6, 2.6, 2.9, 3.6,
   3.2, 3.2, 4.0, 4.2, 4.0, 3.4, 3.8, 4.4, 4.0, 3.4,
   3.6, 4.4, 3.8, 3.2, 3.4, 4.2, 3.6, 2.8, 2.8, 3.6,
   3.0, 2.4, 2.2, 3.0, 2.6, 2.0, 1.8, 2.6, 2.2, 1.4]
];
const WIND_REF = [10.8, 13.9, 17.2];

// ---------- Neerslag per 6 uur (mm) ----------
const PRECIP_MEAN = [
  0, 0.05, 0.1, 0.15, 0.2, 0.15, 0.1, 0.05, 0.1, 0.15,
  0.2, 0.3, 0.4, 0.25, 0.15, 0.15, 0.2, 0.2, 0.2, 0.15,
  0.15, 0.1, 0.2, 0.25, 0.15, 0.1, 0.15, 0.15, 0.1, 0.1,
  0.1, 0.15, 0.3, 0.4, 0.4, 0.35, 0.4, 0.5, 0.55, 0.5,
  0.5, 0.5, 0.5, 0.5, 0.45, 0.4, 0.45, 0.5, 0.55, 0.6,
  0.5, 0.45, 0.4, 0.35, 0.45, 0.45, 0.5, 0.55, 0.5, 0.35];
const PRECIP_CTRL = [
  0, 0, 0.1, 0.2, 0.2, 0.1, 0, 0, 0.1, 0.1,
  0.2, 0.3, 0.3, 0.1, 0, 0.1, 0.2, 0.2, 0.1, 0,
  0, 0.2, 0.3, 0.2, 0.1, 0.2, 0.1, 0, 0, 0,
  0, 0.1, 0.3, 0.9, 1.4, 2.0, 1.2, 1.2, 0.8, 0.4,
  0, 0, 0, 0, 0, 0, 0, 0, 0, 0,
  0, 0, 0, 0, 0, 0, 0, 0, 0, 0];
const PRECIP_OPER = [
  0, 0, 0.1, 0.2, 0.2, 0.2, 0.1, 0, 0.1, 0.1,
  0.2, 0.3, 0.6, 0.2, 0.1, 0.1, 0.2, 0.2, 0.1, 0,
  0, 0.1, 0.2, 0.1, 0, 0, 0, 0, 0, 0,
  0, 0.2, 1.6, 1.5, 0.1, 0, 0.1, 1.0, 3.8, 0.1];
const PRECIP_MEMBERS = [
  [0, 0, 0.1, 0.3, 0.4, 0.2, 0.1, 0, 0.1, 0.2,
   0.4, 1.2, 2.2, 1.0, 0.3, 0.1, 0.2, 0.4, 0.2, 0.1,
   0, 0.1, 0.2, 0.3, 0.6, 0.3, 0.1, 0, 0.2, 1.2,
   0.6, 0.4, 1.6, 2.8, 1.2, 0.4, 0.6, 1.4, 1.0, 0.3,
   0, 0.1, 4.2, 9.6, 5.8, 0.6, 0.4, 0.2, 0.3, 0.6,
   0.4, 0.2, 0.3, 0.4, 0.6, 2.8, 5.8, 6.0, 4.6, 0.8],
  [0, 0, 0.1, 0.2, 0.3, 0.2, 0.1, 0, 0, 0.1,
   0.3, 0.6, 1.4, 0.8, 0.2, 0, 0.1, 0.3, 0.2, 0,
   0, 0, 0.2, 1.2, 2.4, 1.6, 0.6, 0.2, 0.1, 0.4,
   1.8, 2.6, 1.2, 0.4, 0.2, 0.1, 0.6, 1.4, 0.8, 0.2,
   0.1, 0.2, 0.6, 1.2, 0.4, 0.2, 1.6, 2.0, 4.4, 7.8,
   2.6, 0.4, 0.1, 0.2, 0.3, 0.4, 0.2, 0.2, 0.3, 0.2],
  [0, 0.1, 0.2, 0.4, 0.3, 0.1, 0, 0, 0.1, 0.2,
   0.2, 0.4, 0.8, 0.5, 0.1, 0, 0.3, 1.5, 0.4, 0.1,
   0, 0, 0.1, 0.3, 0.6, 2.4, 1.2, 0.3, 0.2, 0.4,
   0.8, 1.6, 2.4, 6.9, 0.6, 0.2, 0.4, 0.8, 0.6, 0.2,
   0.1, 0, 0, 0.2, 0.4, 0.6, 0.3, 0.1, 0, 0.2,
   0.4, 0.8, 1.2, 0.6, 0.2, 0.1, 0.2, 0.4, 0.2, 0.1],
  [0, 0, 0.1, 0.2, 0.2, 0.1, 0.1, 0, 0.1, 0.1,
   0.2, 0.3, 0.6, 0.3, 0.1, 0.1, 0.2, 0.3, 0.1, 0,
   0, 0.1, 0.4, 0.8, 1.0, 3.0, 0.3, 0.1, 0, 0.1,
   0.2, 0.3, 0.6, 0.8, 1.6, 1.2, 4.6, 1.0, 0.4, 0.2,
   0.1, 0, 0, 0, 0.2, 0.4, 0.6, 0.2, 0.1, 0,
   0, 0.1, 0.3, 0.8, 2.0, 1.0, 0.4, 0.2, 0.1, 0],
  [0, 0, 0, 0.1, 0.2, 0.1, 0, 0, 0, 0.1,
   0.1, 0.3, 3.1, 0.6, 0.2, 0, 0.1, 0.2, 0.1, 0,
   0, 0, 0, 0.1, 0.2, 0.1, 0, 0, 0, 0,
   0, 0.1, 0.4, 0.6, 0.2, 0.1, 0.3, 0.6, 0.4, 0.2,
   0.3, 0.8, 1.4, 0.8, 2.0, 5.6, 1.0, 0.6, 0.4, 0.2,
   0, 0, 0.1, 0.2, 0.4, 0.3, 0.1, 0, 0, 0],
  [0, 0.1, 0.2, 0.3, 0.4, 0.2, 0.1, 0, 0.1, 0.2,
   0.3, 0.5, 1.0, 0.6, 0.2, 0.1, 0.3, 0.6, 0.3, 0.1,
   0, 0.1, 0.2, 0.4, 0.6, 0.3, 0.2, 0.1, 0, 0,
   0, 0.1, 0.2, 0.2, 0.4, 1.0, 6.5, 0.8, 0.4, 0.2,
   0, 0, 0, 0.1, 0.2, 0.1, 0, 0, 0.1, 0.2,
   0.1, 0, 0, 0.1, 0.2, 0.4, 0.3, 0.1, 0, 0],
  [0, 0, 0.1, 0.1, 0.2, 0.1, 0, 0, 0, 0.1,
   0.1, 0.2, 0.4, 0.2, 0.1, 0, 0.1, 0.2, 0.1, 0,
   0, 0, 0.1, 0.2, 0.1, 0, 0, 0, 0, 0.1,
   0.1, 0.2, 0.4, 0.2, 0.1, 0.2, 0.4, 0.8, 1.4, 6.0,
   1.2, 0.4, 0.1, 0, 0, 0.1, 0.2, 0.1, 0, 0,
   0, 0, 0, 0.1, 0.2, 0.4, 0.3, 0.2, 0.1, 0],
  [0, 0, 0, 0.1, 0.1, 0.1, 0, 0, 0, 0,
   0.1, 0.2, 0.3, 0.2, 0, 0, 0.1, 0.1, 0, 0,
   0, 0, 0, 0.1, 0.2, 0.1, 0, 0, 0, 0,
   0, 0, 0.1, 0.2, 0.4, 0.6, 0.3, 0.2, 0.1, 0,
   0, 0.1, 0.3, 0.6, 1.0, 0.8, 0.4, 0.2, 0.4, 0.8,
   1.6, 1.0, 0.4, 0.2, 0.1, 0.3, 0.6, 0.4, 0.2, 0.1],
  [0, 0, 0, 0, 0.1, 0, 0, 0, 0, 0,
   0, 0.1, 0.2, 0.1, 0, 0, 0, 0.1, 0, 0,
   0, 0, 0, 0, 0.1, 0, 0, 0, 0, 0,
   0, 0, 0, 0.1, 0.3, 0.2, 0.1, 0, 0, 0,
   0, 0, 0.2, 0.4, 0.6, 0.3, 0.1, 0, 0.2, 0.5,
   0.8, 3.2, 1.4, 0.4, 0.2, 0.1, 0, 0.1, 0.2, 0.1],
  [0, 0, 0, 0.1, 0.1, 0, 0, 0, 0, 0,
   0, 0.1, 0.2, 0.1, 0, 0, 0, 0, 0, 0,
   0, 0, 0, 0, 0, 0, 0, 0, 0, 0,
   0, 0, 0, 0, 0.1, 0.1, 0, 0, 0, 0,
   0, 0, 0, 0.1, 0.2, 0.1, 0, 0, 0, 0,
   0, 0.1, 0.3, 0.8, 1.6, 2.2, 0.8, 0.2, 0.1, 0],
  [0, 0, 0, 0, 0, 0, 0, 0, 0, 0,
   0, 0, 0.1, 0.1, 0, 0, 0, 0, 0, 0,
   0, 0, 0, 0, 0, 0, 0, 0, 0, 0,
   0, 0, 0, 0, 0, 0.1, 0.1, 0, 0, 0,
   0, 0, 0, 0, 0, 0, 0.1, 0.2, 0.1, 0,
   0, 0, 0, 0, 0.1, 0.4, 1.2, 2.0, 0.6, 0.1],
  [0, 0, 0, 0, 0, 0, 0, 0, 0, 0,
   0, 0, 0.1, 0, 0, 0, 0, 0, 0, 0,
   0, 0, 0, 0, 0, 0, 0, 0, 0, 0,
   0, 0, 0, 0, 0.1, 0, 0, 0, 0, 0,
   0, 0, 0, 0.2, 0.3, 0, 0, 0, 0, 0,
   0, 0, 0, 0, 0, 0, 0.4, 1.0, 0.6, 0.2],
  [0, 0, 0.1, 0.2, 0.3, 0.2, 0.1, 0, 0.1, 0.2,
   0.3, 0.6, 1.2, 0.8, 0.3, 0.1, 0.2, 0.4, 0.3, 0.1,
   0, 0.1, 0.3, 0.6, 1.2, 0.8, 0.4, 0.2, 0.1, 0.3,
   0.4, 0.8, 1.2, 0.8, 0.6, 0.4, 0.8, 1.6, 1.0, 0.4,
   0.2, 0.6, 1.2, 1.8, 0.8, 0.4, 0.2, 0.6, 1.0, 0.6,
   0.2, 0.1, 0.4, 0.8, 0.6, 0.2, 0.1, 0.2, 0.4, 0.2],
  [0, 0, 0.1, 0.2, 0.2, 0.1, 0.1, 0, 0.1, 0.1,
   0.2, 0.4, 0.6, 0.4, 0.2, 0.1, 0.2, 0.3, 0.2, 0.1,
   0, 0.1, 0.2, 0.4, 0.8, 1.8, 1.0, 0.4, 0.2, 0.2,
   0.2, 0.4, 0.6, 0.4, 0.4, 1.2, 1.8, 0.8, 0.4, 0.2,
   0.1, 0.2, 0.4, 0.4, 0.2, 0.8, 2.0, 1.0, 0.4, 0.2,
   0.1, 0.4, 1.0, 0.6, 0.2, 0.1, 0.2, 0.4, 0.2, 0.1],
  [0, 0, 0.1, 0.1, 0.2, 0.1, 0, 0, 0, 0.1,
   0.2, 0.3, 0.5, 0.3, 0.1, 0, 0.1, 0.2, 0.1, 0,
   0, 0, 0.1, 0.2, 0.4, 0.6, 0.3, 0.1, 0, 0.1,
   0.3, 0.8, 1.4, 0.6, 0.3, 0.4, 0.8, 1.4, 2.0, 0.8,
   0.4, 0.2, 0.4, 0.6, 1.2, 1.8, 0.6, 0.4, 0.2, 0.4,
   0.8, 1.2, 0.6, 0.2, 0.4, 0.8, 0.6, 0.2, 0.1, 0],
  [0, 0, 0, 0.1, 0.2, 0.1, 0, 0, 0, 0.1,
   0.1, 0.2, 0.4, 0.2, 0.1, 0, 0.1, 0.2, 0.1, 0,
   0, 0, 0.1, 0.2, 0.3, 0.4, 0.2, 0.1, 0, 0,
   0.1, 0.2, 0.4, 0.8, 0.6, 0.4, 0.6, 1.0, 0.8, 0.4,
   0.2, 0.4, 1.0, 1.6, 2.2, 0.8, 0.4, 0.2, 0.1, 0.2,
   0.4, 0.6, 1.0, 0.6, 0.2, 0.1, 0.2, 0.4, 0.6, 0.2],
  [0, 0, 0.1, 0.1, 0.1, 0.1, 0, 0, 0, 0,
   0.1, 0.2, 0.3, 0.2, 0.1, 0, 0, 0.1, 0.1, 0,
   0, 0, 0, 0.1, 0.2, 0.2, 0.1, 0, 0, 0,
   0, 0.1, 0.2, 0.4, 0.8, 1.2, 0.6, 0.3, 0.2, 0.1,
   0, 0.1, 0.2, 0.4, 0.6, 0.4, 0.2, 0.6, 1.2, 0.8,
   0.4, 0.2, 0.1, 0.2, 0.4, 0.8, 1.4, 0.6, 0.2, 0.1],
  [0, 0, 0, 0.1, 0.1, 0, 0, 0, 0, 0,
   0.1, 0.1, 0.2, 0.1, 0, 0, 0, 0.1, 0, 0,
   0, 0, 0, 0, 0.1, 0.1, 0, 0, 0, 0,
   0, 0, 0.1, 0.2, 0.3, 0.2, 0.1, 0.1, 0, 0,
   0, 0, 0.1, 0.2, 0.4, 0.6, 0.4, 0.2, 0.1, 0,
   0, 0.2, 0.6, 1.0, 0.6, 0.4, 0.2, 0.4, 0.8, 0.4]
];
const PRECIP_REF = [15];

// ---------- Sneeuwval per 6 uur (cm) ----------
const SNOW_MEAN = [
  0, 0, 0, 0, 0, 0, 0, 0, 0, 0,
  0, 0, 0, 0, 0, 0, 0, 0, 0, 0,
  0, 0, 0, 0, 0, 0, 0, 0, 0, 0,
  0, 0, 0, 0, 0, 0.02, 0.05, 0.04, 0.06, 0.1,
  0.04, 0.02, 0.02, 0.03, 0.05, 0.08, 0.05, 0.03, 0.02, 0.03,
  0.04, 0.05, 0.05, 0.06, 0.05, 0.03, 0.04, 0.08, 0.06, 0.05];
const SNOW_CTRL = [
  0, 0, 0, 0, 0, 0, 0, 0, 0, 0,
  0, 0, 0, 0, 0, 0, 0, 0, 0, 0,
  0, 0, 0, 0, 0, 0, 0, 0, 0, 0,
  0, 0, 0, 0, 0, 0, 0, 0, 0, 0,
  0, 0, 0, 0, 0, 0, 0.08, 0, 0, 0,
  0, 0, 0, 0, 0.08, 0, 0, 0, 0.1, 0];
const SNOW_OPER = [
  0, 0, 0, 0, 0, 0, 0, 0, 0, 0,
  0, 0, 0, 0, 0, 0, 0, 0, 0, 0,
  0, 0, 0, 0, 0, 0, 0, 0, 0, 0,
  0, 0, 0, 0, 0, 0, 0, 0.02, 0.02, 0];
const SNOW_MEMBERS = [
  [0, 0, 0, 0, 0, 0, 0, 0, 0, 0,
   0, 0, 0, 0, 0, 0, 0, 0, 0, 0,
   0, 0, 0, 0, 0, 0, 0, 0, 0, 0,
   0, 0, 0, 0, 0, 0, 0, 0, 0.2, 3.1,
   0.1, 0, 0, 0, 0, 0, 0, 0, 0, 0,
   0, 0, 0, 0, 0, 0, 0.1, 2.7, 0.2, 0],
  [0, 0, 0, 0, 0, 0, 0, 0, 0, 0,
   0, 0, 0, 0, 0, 0, 0, 0, 0, 0,
   0, 0, 0, 0, 0, 0, 0, 0, 0, 0,
   0, 0, 0, 0, 0, 0, 0, 0, 0, 0,
   0, 0, 0, 0.1, 0.4, 2.2, 0.9, 0.2, 0, 0,
   0, 0, 0, 0, 0, 0, 0, 0, 0, 0],
  [0, 0, 0, 0, 0, 0, 0, 0, 0, 0,
   0, 0, 0, 0, 0, 0, 0, 0, 0, 0,
   0, 0, 0, 0, 0, 0, 0, 0, 0, 0,
   0, 0, 0, 0, 0.1, 0.4, 0.87, 0.2, 0, 0,
   0, 0, 0, 0, 0, 0, 0, 0, 0, 0,
   0, 0.2, 0.5, 1.2, 0.6, 0.1, 0, 0, 0, 0],
  [0, 0, 0, 0, 0, 0, 0, 0, 0, 0,
   0, 0, 0, 0, 0, 0, 0, 0, 0, 0,
   0, 0, 0, 0, 0, 0, 0, 0, 0, 0,
   0, 0, 0, 0, 0, 0.3, 0.2, 0.5, 0.4, 0.1,
   0, 0, 0, 0, 0, 0, 0, 0, 0, 0,
   0.2, 0.7, 0.8, 0.3, 0, 0, 0, 0.3, 0.9, 0.4],
  [0, 0, 0, 0, 0, 0, 0, 0, 0, 0,
   0, 0, 0, 0, 0, 0, 0, 0, 0, 0,
   0, 0, 0, 0, 0, 0, 0, 0, 0, 0,
   0, 0, 0, 0, 0, 0, 0, 0.3, 0.5, 0.2,
   0, 0, 0, 0, 0, 0, 0, 0, 0.2, 0.6,
   0.7, 0.8, 0.4, 1.1, 0.5, 0.1, 0, 0, 0, 0],
  [0, 0, 0, 0, 0, 0, 0, 0, 0, 0,
   0, 0, 0, 0, 0, 0, 0, 0, 0, 0,
   0, 0, 0, 0, 0, 0, 0, 0, 0, 0,
   0, 0, 0, 0, 0, 0, 0, 0, 0, 0,
   0, 0, 0, 0, 0.3, 0.3, 0.1, 0, 0, 0,
   0, 0, 0, 0, 0, 0.1, 0.2, 0.8, 0.5, 0.7],
  [0, 0, 0, 0, 0, 0, 0, 0, 0, 0,
   0, 0, 0, 0, 0, 0, 0, 0, 0, 0,
   0, 0, 0, 0, 0, 0, 0, 0, 0, 0,
   0, 0, 0, 0, 0, 0, 0, 0, 0, 0.1,
   0, 0, 0, 0, 0, 0, 0, 0, 0, 0,
   0.2, 0.2, 0.1, 0, 0.3, 0.4, 0.1, 0, 0, 0],
  [0, 0, 0, 0, 0, 0, 0, 0, 0, 0,
   0, 0, 0, 0, 0, 0, 0, 0, 0, 0,
   0, 0, 0, 0, 0, 0, 0, 0, 0, 0,
   0, 0, 0, 0, 0, 0.1, 0.3, 0, 0, 0,
   0, 0, 0, 0, 0, 0, 0, 0, 0.1, 0.2,
   0, 0, 0, 0, 0.1, 0, 0, 0.5, 0.3, 0]
];

// ---------- helpers ----------
const FONT = '"Liberation Sans", Arial, Helvetica, sans-serif';
const GREENS = ['#79b443', '#93c565', '#6caa38'];

function toPoints(values) {
  return values.map((v, i) => [(i + 1) * STEP_HOURS, v]);
}

// running total of the 6-hourly amounts (accumulated precipitation)
function accumulate(values) {
  let total = 0;
  return values.map(v => {
    total += v;
    return Math.round(total * 100) / 100;
  });
}

const dotted = c => ({ color: c || '#000', type: [1.5, 2.5], width: 1 });

const panels = [
  { row: 0, col: 0, unit: 'mm', label: 'Neerslag/6 uur', min: 0, max: 20, step: 5,
    members: PRECIP_MEMBERS, ctrl: PRECIP_CTRL, oper: PRECIP_OPER, mean: PRECIP_MEAN,
    refs: PRECIP_REF.map(v => ({ v, style: dotted() })), pale: true },
  { row: 0, col: 1, unit: 'mm', label: 'Accum Neerslag', min: 0, max: 80, step: 10,
    members: PRECIP_MEMBERS.map(accumulate), ctrl: accumulate(PRECIP_CTRL),
    oper: accumulate(PRECIP_OPER), mean: accumulate(PRECIP_MEAN), refs: [], pale: true },
  { row: 1, col: 0, unit: 'm/s', label: '10m wind', min: 0, max: 20, step: 5,
    members: WIND_MEMBERS, ctrl: WIND_CTRL, oper: WIND_OPER, mean: WIND_MEAN,
    refs: WIND_REF.map(v => ({ v, style: dotted() })), boldOper: true },
  { row: 1, col: 1, unit: 'm/s', label: 'Windstoten', min: 0, max: 35, step: 5,
    members: GUST_MEMBERS, ctrl: GUST_CTRL, oper: GUST_OPER, mean: GUST_MEAN,
    refs: GUST_REF.map(v => ({ v, style: dotted() }))
      .concat(GUST_WARN.map(v => ({ v, style: { color: '#ff00ff', type: [4, 2], width: 1.2 } }))),
    boldOper: true },
  { row: 2, col: 0, unit: 'Celsius', label: 'T2m', min: -10, max: 20, step: 5,
    members: T2M_MEMBERS, ctrl: T2M_CTRL, oper: T2M_OPER, mean: T2M_MEAN,
    refs: T2M_REF.map(v => ({ v, style: { color: '#000', type: 'solid', width: 2.5 } })), nameSize: 11 },
  { row: 2, col: 1, unit: 'cm', label: 'Sneeuwval/6 uur', min: 0, max: 5, step: 1,
    members: SNOW_MEMBERS, ctrl: SNOW_CTRL, oper: SNOW_OPER, mean: SNOW_MEAN, refs: [] }
];

const ROW_TOPS = [0, 184, 368];
const COL_W = 388;

const grids = [], xAxes = [], yAxes = [], series = [], legends = [], graphics = [];

panels.forEach((p, k) => {
  const x0 = p.col * COL_W;
  const y0 = ROW_TOPS[p.row];
  const ctrlStyle = p.pale
    ? { color: '#5c5cff', type: [5, 3], width: 2 }
    : { color: '#0000ff', type: [5, 3], width: 1.4 };
  const operStyle = p.boldOper
    ? { color: '#ff2020', type: 'solid', width: 1.8 }
    : { color: '#ff0000', type: 'solid', width: 1.4 };
  const meanStyle = { color: '#7a0c0c', type: [2.5, 2.2], width: 3 };

  grids.push({ left: x0 + 32, top: y0 + 18, width: 326, height: 138, outerBoundsMode: 'none' });

  xAxes.push({
    gridIndex: k, type: 'value', min: 0, max: 360, interval: 12,
    axisLine: { show: true, onZero: false, lineStyle: { color: '#000', width: 1 } },
    axisTick: { show: true, length: 3, lineStyle: { color: '#aaa', width: 1 } },
    minorTick: { show: true, splitNumber: 2, length: 3, lineStyle: { color: '#aaa', width: 1 } },
    splitLine: { show: false },
    axisLabel: {
      margin: 1.5, showMinLabel: true, showMaxLabel: true,
      formatter: v => (v % 24 === 0 ? '{t|00}' : '{d|' + DAYS[(v - 12) / 24] + '}'),
      rich: {
        t: { fontSize: 5.5, fontFamily: FONT, color: '#000', lineHeight: 6 },
        d: { fontSize: 8, fontFamily: FONT, color: '#000', lineHeight: 9, padding: [4, 0, 0, 0] }
      }
    }
  });

  const yBase = {
    gridIndex: k, type: 'value', min: p.min, max: p.max, interval: p.step,
    splitLine: { show: false },
    axisLabel: { fontSize: 9, fontFamily: FONT, color: '#000', margin: 4 }
  };
  yAxes.push(Object.assign({}, yBase, {
    position: 'left',
    axisLine: { show: true, onZero: false, lineStyle: { color: '#000', width: 1 } },
    axisTick: { show: true, length: 3, lineStyle: { color: '#000' } },
    name: p.unit, nameLocation: 'middle', nameGap: p.nameSize ? 15 : 16,
    nameTextStyle: { fontSize: p.nameSize || 10.5, fontWeight: 'bold', fontFamily: FONT, color: '#000' }
  }));
  yAxes.push(Object.assign({}, yBase, {
    position: 'right',
    axisLine: { show: true, onZero: false, lineStyle: { color: '#6e6e6e', width: 2 } },
    axisTick: { show: true, length: 3, lineStyle: { color: '#6e6e6e' } },
    axisLabel: { fontSize: 9, fontFamily: FONT, color: '#000', margin: 5 }
  }));

  const common = { type: 'line', xAxisIndex: k, yAxisIndex: 2 * k, symbol: 'none',
    silent: true, animation: false, emphasis: { disabled: true } };

  // threshold lines
  series.push(Object.assign({}, common, {
    data: [], z: 1,
    markLine: {
      silent: true, symbol: ['none', 'none'], label: { show: false }, animation: false,
      data: p.refs.map(r => ({ yAxis: r.v, lineStyle: r.style }))
    }
  }));

  p.members.forEach((m, j) => {
    series.push(Object.assign({}, common, {
      data: toPoints(m), z: 2,
      lineStyle: { color: GREENS[j % GREENS.length], width: 1, opacity: 0.95 }
    }));
  });
  series.push(Object.assign({}, common, { name: 'Control', data: toPoints(p.ctrl), z: 3,
    lineStyle: ctrlStyle, itemStyle: { color: ctrlStyle.color } }));
  series.push(Object.assign({}, common, { name: 'Oper', data: toPoints(p.oper), z: 4,
    lineStyle: operStyle, itemStyle: { color: operStyle.color } }));
  series.push(Object.assign({}, common, { name: 'Ens mn', data: toPoints(p.mean), z: 5,
    lineStyle: meanStyle, itemStyle: { color: meanStyle.color } }));

  legends.push({
    left: x0 + 34, top: y0 + 21, orient: 'vertical', selectedMode: false,
    itemWidth: 22, itemHeight: 5, itemGap: 1.5, padding: 0, itemTextGap: 11,
    itemStyle: { opacity: 0 },
    textStyle: { fontSize: 7, fontFamily: FONT, color: '#000', lineHeight: 5 },
    data: [
      { name: 'Control', lineStyle: ctrlStyle },
      { name: 'Oper', lineStyle: p.boldOper ? { color: '#ff4a4a', type: 'solid', width: 3 } : operStyle },
      { name: 'Ens mn', lineStyle: meanStyle }
    ]
  });

  const txt = (x, y, text, extra) => graphics.push({
    type: 'text', x, y, silent: true,
    style: Object.assign({ text, fill: '#000', fontFamily: FONT, fontSize: 10,
      align: 'center', verticalAlign: 'middle' }, extra)
  });
  graphics.push({
    type: 'text', x: x0 + 195, y: y0 + 8.5, silent: true,
    style: {
      text: '{n|' + TITLE_TEXT + '}{b|' + TITLE_BOLD + '}{n|)}',
      align: 'center', verticalAlign: 'middle',
      rich: {
        n: { fontSize: 11, fontFamily: FONT, fill: '#000' },
        b: { fontSize: 11, fontFamily: FONT, fontWeight: 'bold', fill: '#000' }
      }
    }
  });
  txt(x0 + 324, y0 + 24, STATION);
  txt(x0 + 320, y0 + 34.5, p.label);
  txt(x0 + 190, y0 + 175, X_TITLE, { fontSize: 12, fontWeight: 'bold' });
  txt(x0 + 340, y0 + 175, SOURCE, { fontSize: 6.5, fontWeight: 'bold', fill: '#0000ff' });
});

// panel frames
[1, 389.5, 777].forEach(x => graphics.push({
  type: 'line', silent: true, shape: { x1: x, y1: 0, x2: x, y2: 554 },
  style: { stroke: '#b4b4f4', lineWidth: 2 }
}));
[183.5, 367.5, 552.5].forEach(y => graphics.push({
  type: 'line', silent: true, shape: { x1: 0, y1: y, x2: 778, y2: y },
  style: { stroke: '#3c3cff', lineWidth: 1.5 }
}));

const chart = echarts.init(document.getElementById('chart'), null, { renderer: 'svg', width: 778, height: 554 });
chart.setOption({
  backgroundColor: '#fff',
  animation: false,
  tooltip: { show: false },
  grid: grids,
  xAxis: xAxes,
  yAxis: yAxes,
  legend: legends,
  series: series,
  graphic: graphics
});
</script>
</body>
</html>
